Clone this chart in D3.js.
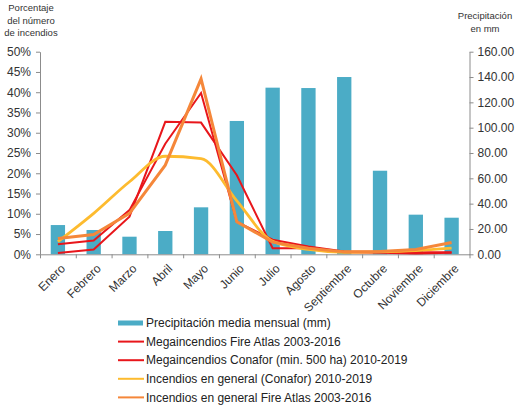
<!DOCTYPE html>
<html>
<head>
<meta charset="utf-8">
<script src="https://cdn.jsdelivr.net/npm/d3@7"></script>
<style>
  body { margin: 0; background: #fff; }
  svg { font-family: "Liberation Sans", Arial, sans-serif; }
  .axis path, .axis line { stroke: #8c8c8c; }
  .axis text { fill: #333; font-size: 12px; }
</style>
</head>
<body>
<div id="chart"></div>
<script>
// Data
const months = ['Enero', 'Febrero', 'Marzo', 'Abril', 'Mayo', 'Junio', 'Julio',
  'Agosto', 'Septiembre', 'Octubre', 'Noviembre', 'Diciembre'];

// Precipitación media mensual (mm) - right axis
const precipitacion = [23.1, 19.2, 13.9, 18.4, 37.1, 105.3, 131.6, 131.3, 140.0, 66.0, 31.3, 28.9];

// Porcentaje del número de incendios - left axis
const megaFireAtlas = [0.3, 1.2, 9.3, 32.7, 32.5, 19.5, 1.5, 1.5, 0.5, 0.4, 0.2, 0.4];
const megaConafor = [2.5, 3.4, 10.9, 27.3, 39.8, 8.0, 3.6, 1.9, 0.7, 0.6, 0.5, 0.5];
const generalConafor = [3.1, 10.1, 17.9, 24.2, 23.6, 13.2, 3.2, 1.2, 0.5, 0.6, 0.9, 1.5];
const generalFireAtlas = [3.9, 4.9, 10.1, 22.0, 43.3, 8.0, 3.0, 1.5, 0.6, 0.7, 1.2, 2.9];

const pctTicks = [0, 5, 10, 15, 20, 25, 30, 35, 40, 45, 50];
const mmTicks = [0, 20, 40, 60, 80, 100, 120, 140, 160];

const series = [
  { name: 'Megaincendios Fire Atlas 2003-2016', values: megaFireAtlas, colour: '#e8161b', width: 2, smooth: false },
  { name: 'Megaincendios Conafor (min. 500 ha) 2010-2019', values: megaConafor, colour: '#e8161b', width: 2, smooth: false },
  { name: 'Incendios en general (Conafor) 2010-2019', values: generalConafor, colour: '#fdbb2f', width: 2.8, smooth: true },
  { name: 'Incendios en general Fire Atlas 2003-2016', values: generalFireAtlas, colour: '#f5873a', width: 3, smooth: false }
];

const config = {
  width: 516,
  height: 410,
  left: 40,
  right: 469.5,
  top: 51.7,
  bottom: 254.3,
  barColour: '#4bacc6'
};

const svg = d3.select('#chart').append('svg')
  .attr('width', config.width)
  .attr('height', config.height);

// Scales
const x = d3.scaleBand()
  .domain(months)
  .range([config.left, config.right])
  .paddingInner(0.6)
  .paddingOuter(0.3);

const xEdges = d3.scaleLinear()
  .domain([0, months.length])
  .range([config.left, config.right]);

const yLeft = d3.scaleLinear()
  .domain([0, 50])
  .range([config.bottom, config.top]);

const yRight = d3.scaleLinear()
  .domain([0, 160])
  .range([config.bottom, config.top]);

// Bars
svg.append('g').selectAll('rect')
  .data(precipitacion)
  .join('rect')
    .attr('x', (d, i) => x(months[i]))
    .attr('y', d => yRight(d))
    .attr('width', x.bandwidth())
    .attr('height', d => yRight(0) - yRight(d))
    .attr('fill', config.barColour);

// Axes
svg.append('g')
  .attr('class', 'axis')
  .attr('transform', `translate(${config.left},0)`)
  .call(d3.axisLeft(yLeft).tickValues(pctTicks).tickFormat(d => d + '%').tickSize(4).tickSizeOuter(0).tickPadding(5));

svg.append('g')
  .attr('class', 'axis')
  .attr('transform', `translate(${config.right},0)`)
  .call(d3.axisRight(yRight).tickValues(mmTicks).tickFormat(d3.format('.2f')).tickSize(4).tickSizeOuter(0).tickPadding(4));

svg.append('g')
  .attr('class', 'axis')
  .attr('transform', `translate(0,${config.bottom})`)
  .call(d3.axisBottom(xEdges).tickValues(d3.range(0, months.length + 1)).tickFormat('').tickSize(4).tickSizeOuter(0));

const xLabels = svg.append('g')
  .attr('class', 'axis')
  .attr('transform', `translate(0,${config.bottom})`)
  .call(d3.axisBottom(x).tickSize(0).tickPadding(0));
xLabels.select('.domain').remove();
xLabels.selectAll('text')
  .attr('text-anchor', 'end')
  .attr('font-size', '12px')
  .attr('dy', '0.35em')
  .attr('y', 0)
  .attr('transform', 'translate(5,12) rotate(-45)');

// Lines
const lineStraight = d3.line()
  .x((d, i) => x(months[i]) + x.bandwidth() / 2)
  .y(d => yLeft(d));
const lineSmooth = d3.line()
  .x((d, i) => x(months[i]) + x.bandwidth() / 2)
  .y(d => yLeft(d))
  .curve(d3.curveMonotoneX);

svg.append('g').selectAll('path')
  .data(series)
  .join('path')
    .attr('d', d => (d.smooth ? lineSmooth : lineStraight)(d.values))
    .attr('fill', 'none')
    .attr('stroke', d => d.colour)
    .attr('stroke-width', d => d.width)
    .attr('stroke-linejoin', 'miter');

// Axis titles
const leftTitle = svg.append('text')
  .attr('text-anchor', 'middle')
  .attr('font-size', '9.5px')
  .attr('fill', '#333');
['Porcentaje', 'del número', 'de incendios'].forEach((t, i) => {
  leftTitle.append('tspan').attr('x', 31).attr('y', 10.8 + i * 12.8).text(t);
});

const rightTitle = svg.append('text')
  .attr('text-anchor', 'middle')
  .attr('font-size', '9.5px')
  .attr('fill', '#333');
['Precipitación', 'en mm'].forEach((t, i) => {
  rightTitle.append('tspan').attr('x', 485).attr('y', 18.5 + i * 13).text(t);
});

// Legend
const legendItems = [{ name: 'Precipitación media mensual (mm)', colour: config.barColour, bar: true }]
  .concat(series);

const legend = svg.append('g')
  .attr('transform', 'translate(118,323)');

const legendRows = legend.selectAll('g')
  .data(legendItems)
  .join('g')
    .attr('transform', (d, i) => `translate(0,${i * 18.6})`);

legendRows.each(function (d) {
  const row = d3.select(this);
  if (d.bar) {
    row.append('rect')
      .attr('x', 0).attr('y', -2.5)
      .attr('width', 25).attr('height', 5)
      .attr('fill', d.colour);
  } else {
    row.append('line')
      .attr('x1', 0).attr('x2', 26)
      .attr('y1', 0).attr('y2', 0)
      .attr('stroke', d.colour)
      .attr('stroke-width', 2);
  }
});

legendRows.append('text')
  .attr('x', 28)
  .attr('dy', '0.35em')
  .attr('font-size', '12px')
  .attr('fill', '#222')
  .text(d => d.name);
</script>
</body>
</html>
